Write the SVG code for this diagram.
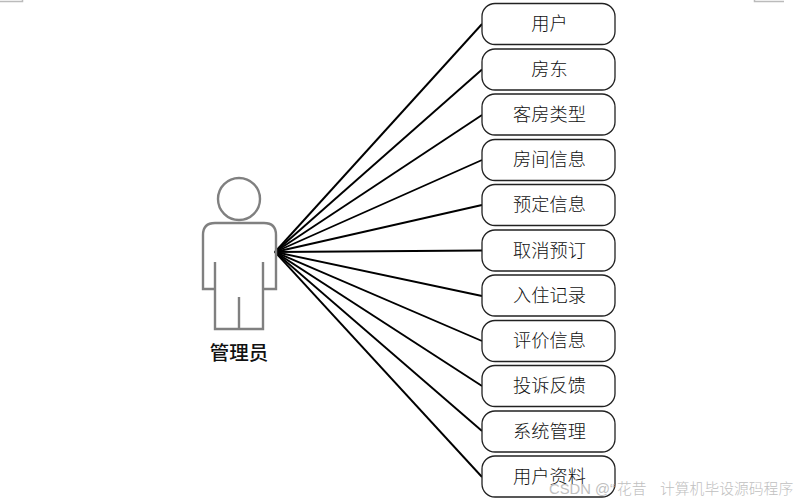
<svg xmlns="http://www.w3.org/2000/svg" width="797" height="501" viewBox="0 0 797 501">
<style>
.box{fill:#fff;stroke:#222;stroke-width:1.3}
.t{font-family:"Liberation Serif","Noto Sans CJK SC",serif;font-size:18.2px;font-weight:300;text-anchor:middle;fill:#111}
.c line{stroke:#000;stroke-width:1.9}
.a{fill:none;stroke:#808080;stroke-width:2.4}
.crop{stroke:#bbb;stroke-width:1.5;fill:none}
</style>
<rect width="797" height="501" fill="#fff"/>
<path class="crop" d="M0 1.5H22.5V0M754.500 0V1.500H784"/>
<g class="c" id="connectors">
<line x1="275" y1="252" x2="482" y2="24"/>
<line x1="275" y1="252" x2="482" y2="69.500"/>
<line x1="275" y1="252" x2="482" y2="115"/>
<line x1="275" y1="252" x2="482" y2="160"/>
<line x1="275" y1="252" x2="482" y2="205"/>
<line x1="275" y1="252" x2="482" y2="250.500"/>
<line x1="275" y1="252" x2="482" y2="296"/>
<line x1="275" y1="252" x2="482" y2="341"/>
<line x1="275" y1="252" x2="482" y2="386"/>
<line x1="275" y1="252" x2="482" y2="431"/>
<line x1="275" y1="252" x2="482" y2="477"/>
</g>
<g id="actor">
<circle class="a" cx="239" cy="199" r="21"/>
<path class="a" d="M215 262V289H203V235Q203 223 215 223H264Q276 223 276 235V289H263V262M215 289V329H263V289M239 297V329"/>
<text x="239" y="360" font-family="'Noto Sans CJK SC',sans-serif" font-size="19.500" font-weight="500" text-anchor="middle" fill="#111">管理员</text>
</g>
<g id="n1"><rect class="box" x="482" y="3.500" width="133" height="41" rx="13"/><text class="t" x="549.500" y="30">用户</text></g>
<g id="n2"><rect class="box" x="482" y="49" width="133" height="41" rx="13"/><text class="t" x="549.500" y="76">房东</text></g>
<g id="n3"><rect class="box" x="482" y="94" width="133" height="41" rx="13"/><text class="t" x="549.500" y="121">客房类型</text></g>
<g id="n4"><rect class="box" x="482" y="139.500" width="133" height="41" rx="13"/><text class="t" x="549.500" y="166">房间信息</text></g>
<g id="n5"><rect class="box" x="482" y="184.500" width="133" height="41" rx="13"/><text class="t" x="549.500" y="211">预定信息</text></g>
<g id="n6"><rect class="box" x="482" y="230" width="133" height="41" rx="13"/><text class="t" x="549.500" y="257">取消预订</text></g>
<g id="n7"><rect class="box" x="482" y="275" width="133" height="41" rx="13"/><text class="t" x="549.500" y="302">入住记录</text></g>
<g id="n8"><rect class="box" x="482" y="320.500" width="133" height="41" rx="13"/><text class="t" x="549.500" y="347">评价信息</text></g>
<g id="n9"><rect class="box" x="482" y="365.500" width="133" height="41" rx="13"/><text class="t" x="549.500" y="392">投诉反馈</text></g>
<g id="n10"><rect class="box" x="482" y="411" width="133" height="41" rx="13"/><text class="t" x="549.500" y="438">系统管理</text></g>
<g id="n11"><rect class="box" x="482" y="456" width="133" height="41" rx="13"/><text class="t" x="549.500" y="483">用户资料</text></g>
<text y="494" font-family="'Liberation Sans','Noto Sans CJK SC',sans-serif" font-size="14.800" font-weight="300" fill="#c0c0c0"><tspan x="549">CSDN @“</tspan><tspan x="617">花昔</tspan><tspan x="660">计算机毕设源码程序</tspan></text>
</svg>
